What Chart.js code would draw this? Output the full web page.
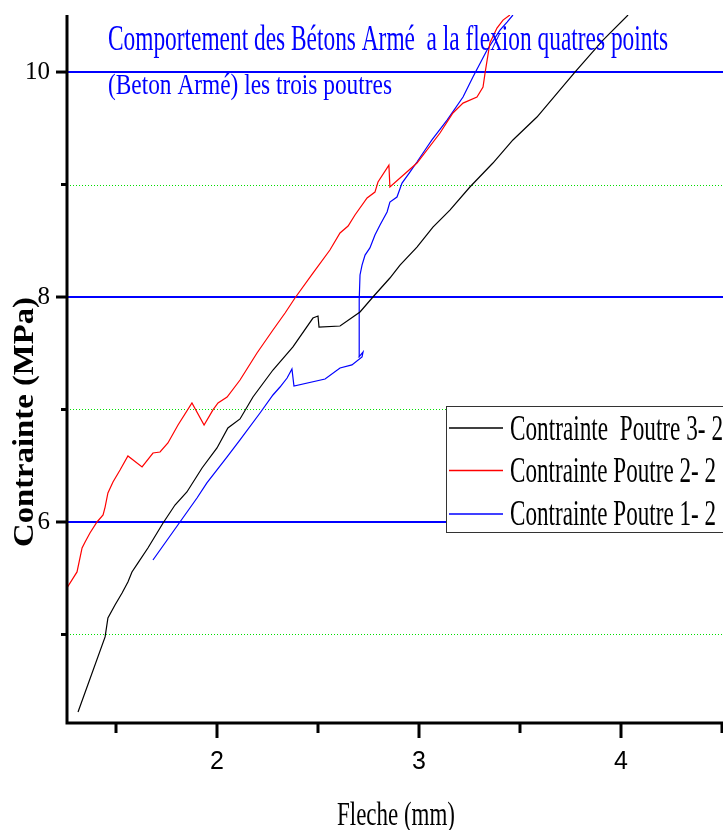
<!DOCTYPE html>
<html>
<head>
<meta charset="utf-8">
<script src="https://cdn.jsdelivr.net/npm/chart.js@4.4.1/dist/chart.umd.min.js"></script>
<style>
  html, body { margin:0; padding:0; background:#fff; }
  #c { display:block; }
</style>
</head>
<body>
<canvas id="c" width="723" height="830"></canvas>
<script>
// ---- data ----
const seriesLabels = ["Contrainte  Poutre 3- 2", "Contrainte Poutre 2- 2", "Contrainte Poutre 1- 2"];

const poutre3X = [1.312,1.446,1.460,1.495,1.530,1.559,1.579,1.609,1.658,1.733,1.792,1.851,1.926,2.000,2.054,2.114,2.178,2.277,2.376,2.475,2.500,2.505,2.609,2.708,2.772,2.856,2.906,2.990,3.069,3.153,3.252,3.366,3.465,3.584,3.772,3.911,4.035];
const poutre3Y = [4.311,4.978,5.147,5.262,5.369,5.467,5.556,5.636,5.769,5.991,6.151,6.267,6.480,6.658,6.836,6.916,7.111,7.351,7.556,7.813,7.831,7.733,7.742,7.867,8.000,8.169,8.284,8.444,8.622,8.773,8.978,9.191,9.396,9.600,10.000,10.284,10.507];

const poutre2X = [1.257,1.307,1.332,1.347,1.371,1.406,1.436,1.446,1.460,1.485,1.520,1.559,1.629,1.683,1.718,1.757,1.807,1.876,1.936,1.980,2.005,2.050,2.114,2.198,2.277,2.337,2.386,2.475,2.559,2.609,2.649,2.683,2.743,2.782,2.797,2.851,2.856,2.990,3.104,3.168,3.218,3.287,3.317,3.327,3.351,3.386,3.416,3.450];
const poutre2Y = [5.413,5.556,5.769,5.822,5.902,6.000,6.062,6.133,6.258,6.356,6.462,6.587,6.489,6.613,6.622,6.702,6.862,7.058,6.862,6.996,7.058,7.111,7.262,7.502,7.707,7.858,7.991,8.213,8.418,8.569,8.631,8.729,8.880,8.933,9.022,9.173,8.978,9.191,9.458,9.636,9.724,9.778,9.867,9.991,10.258,10.391,10.462,10.507];

const poutre1X = [1.683,1.901,1.950,2.050,2.114,2.213,2.277,2.312,2.347,2.371,2.381,2.535,2.609,2.668,2.718,2.723,2.703,2.703,2.705,2.708,2.718,2.733,2.757,2.782,2.807,2.842,2.856,2.891,2.916,2.955,2.990,3.030,3.064,3.139,3.218,3.267,3.337,3.401,3.436,3.465];
const poutre1Y = [5.662,6.213,6.347,6.578,6.729,6.969,7.129,7.200,7.280,7.360,7.209,7.271,7.369,7.396,7.467,7.511,7.467,7.707,7.973,8.196,8.284,8.373,8.436,8.551,8.640,8.756,8.844,8.889,9.013,9.111,9.200,9.307,9.396,9.573,9.778,9.956,10.196,10.373,10.444,10.507];

const xMajorTicks = [2, 3, 4];
const xMinorTicks = [1.5, 2.5, 3.5, 4.5];
const yMajorTicks = [6, 8, 10];
const yMinorTicks = [5, 7, 9];

const titleLines = ["Comportement des Bétons Armé  a la flexion quatres points", "(Beton Armé) les trois poutres"];
const xTitle = "Fleche (mm)";
const yTitle = "Contrainte (MPa)";

// ---- helpers ----
const zip = (xs, ys) => xs.map((x, i) => ({ x: x, y: ys[i] }));

function fitText(ctx, text, x, y, targetW, font, color, align) {
  ctx.save();
  ctx.font = font;
  ctx.fillStyle = color;
  ctx.textBaseline = 'alphabetic';
  ctx.textAlign = 'left';
  const w = ctx.measureText(text).width;
  const sx = targetW / w;
  ctx.translate(x, y);
  ctx.scale(sx, 1);
  const off = align === 'center' ? -w / 2 : 0;
  ctx.fillText(text, off, 0);
  ctx.restore();
}

function zeroPad(s) { s.paddingTop = 0; s.paddingBottom = 0; s.paddingLeft = 0; s.paddingRight = 0; }

const refPlugin = {
  id: 'refPlugin',
  beforeDatasetsDraw(chart) {
    const ctx = chart.ctx, a = chart.chartArea, ys = chart.scales.y;
    ctx.save();
    // minor grid: green dotted
    ctx.strokeStyle = '#00e000';
    ctx.lineWidth = 1;
    ctx.setLineDash([1, 2]);
    yMinorTicks.forEach(v => {
      const p = Math.round(ys.getPixelForValue(v)) + 0.5;
      ctx.beginPath(); ctx.moveTo(a.left, p); ctx.lineTo(a.right, p); ctx.stroke();
    });
    // major grid: blue solid
    ctx.setLineDash([]);
    ctx.strokeStyle = '#0000ff';
    ctx.lineWidth = 2;
    yMajorTicks.forEach(v => {
      const p = Math.round(ys.getPixelForValue(v));
      ctx.beginPath(); ctx.moveTo(a.left, p); ctx.lineTo(a.right, p); ctx.stroke();
    });
    ctx.restore();
  },
  afterDatasetsDraw(chart) {
    const ctx = chart.ctx, a = chart.chartArea, xs = chart.scales.x, ys = chart.scales.y;
    ctx.save();
    // axes lines
    ctx.strokeStyle = '#000';
    ctx.lineWidth = 3;
    ctx.beginPath();
    ctx.moveTo(a.left, a.top); ctx.lineTo(a.left, a.bottom + 1.5);
    ctx.moveTo(a.left - 1.5, a.bottom); ctx.lineTo(a.right, a.bottom);
    ctx.stroke();
    // ticks
    ctx.lineWidth = 3;
    yMajorTicks.forEach(v => { const p = ys.getPixelForValue(v); ctx.beginPath(); ctx.moveTo(a.left - 11, p); ctx.lineTo(a.left, p); ctx.stroke(); });
    yMinorTicks.forEach(v => { const p = ys.getPixelForValue(v); ctx.beginPath(); ctx.moveTo(a.left - 6, p); ctx.lineTo(a.left, p); ctx.stroke(); });
    xMajorTicks.forEach(v => { const p = xs.getPixelForValue(v); ctx.beginPath(); ctx.moveTo(p, a.bottom); ctx.lineTo(p, a.bottom + 15); ctx.stroke(); });
    xMinorTicks.forEach(v => { const p = xs.getPixelForValue(v); ctx.beginPath(); ctx.moveTo(p, a.bottom); ctx.lineTo(p, a.bottom + 10); ctx.stroke(); });
    ctx.restore();

    // title (blue, inside plot)
    fitText(ctx, titleLines[0], 108, 50, 560, "35px 'Liberation Serif'", '#0000ff', 'left');
    fitText(ctx, titleLines[1], 108, 94, 284, "30px 'Liberation Serif'", '#0000ff', 'left');

    // axis titles
    fitText(ctx, xTitle, 396, 825, 118, "33px 'Liberation Serif'", '#000', 'center');
    ctx.save();
    ctx.translate(33, 422);
    ctx.rotate(-Math.PI / 2);
    fitText(ctx, yTitle, 0, 0, 250, "bold 30px 'Liberation Serif'", '#000', 'center');
    ctx.restore();

    // legend
    ctx.save();
    ctx.fillStyle = '#fff';
    ctx.fillRect(446, 406, 290, 126);
    ctx.strokeStyle = '#333';
    ctx.lineWidth = 1;
    ctx.strokeRect(446.5, 406.5, 290, 126);
    const rowsLine = [428, 470.5, 514];
    const rowsText = [440, 482, 525];
    const widths = [213, 206, 206];
    chart.data.datasets.forEach((ds, i) => {
      ctx.strokeStyle = ds.borderColor;
      ctx.lineWidth = 1.5;
      ctx.beginPath(); ctx.moveTo(449, rowsLine[i]); ctx.lineTo(503, rowsLine[i]); ctx.stroke();
      fitText(ctx, ds.label, 510, rowsText[i], widths[i], "35px 'Liberation Serif'", '#000', 'left');
    });
    ctx.restore();
  }
};

new Chart(document.getElementById('c'), {
  type: 'line',
  data: {
    datasets: [
      { label: seriesLabels[0], data: zip(poutre3X, poutre3Y), borderColor: '#000000', borderWidth: 1.2, pointRadius: 0, tension: 0, fill: false },
      { label: seriesLabels[1], data: zip(poutre2X, poutre2Y), borderColor: '#ff0000', borderWidth: 1.2, pointRadius: 0, tension: 0, fill: false },
      { label: seriesLabels[2], data: zip(poutre1X, poutre1Y), borderColor: '#0000ff', borderWidth: 1.2, pointRadius: 0, tension: 0, fill: false }
    ]
  },
  options: {
    responsive: false,
    animation: false,
    devicePixelRatio: 1,
    layout: { padding: { top: 15, left: 0, right: 0, bottom: 0 } },
    plugins: { legend: { display: false }, title: { display: false }, tooltip: { enabled: false } },
    scales: {
      x: {
        type: 'linear',
        min: 1.2574, max: 4.505,
        afterFit(s) { s.height = 107; zeroPad(s); },
        afterBuildTicks(s) { s.ticks = xMinorTicks.concat(xMajorTicks).sort((p, q) => p - q).map(v => ({ value: v })); },
        ticks: {
          autoSkip: false, maxRotation: 0, color: '#000', padding: 9,
          font: { family: "'Liberation Sans Narrow', 'Liberation Sans', Arial", size: 25 },
          callback: (v) => xMajorTicks.includes(v) ? String(v) : ''
        },
        grid: { display: true, drawOnChartArea: false, color: 'rgba(0,0,0,0)', tickLength: 15 },
        border: { display: false }
      },
      y: {
        type: 'linear',
        min: 4.213, max: 10.507,
        afterFit(s) { s.width = 67; zeroPad(s); },
        afterBuildTicks(s) { s.ticks = yMinorTicks.concat(yMajorTicks).sort((p, q) => p - q).map(v => ({ value: v })); },
        ticks: {
          autoSkip: false, color: '#000', padding: 6,
          font: { family: "'Liberation Serif'", size: 25 },
          callback: (v) => yMajorTicks.includes(v) ? String(v) : ''
        },
        grid: { display: true, drawOnChartArea: false, color: 'rgba(0,0,0,0)', tickLength: 11 },
        border: { display: false }
      }
    }
  },
  plugins: [refPlugin]
});
</script>
</body>
</html>
